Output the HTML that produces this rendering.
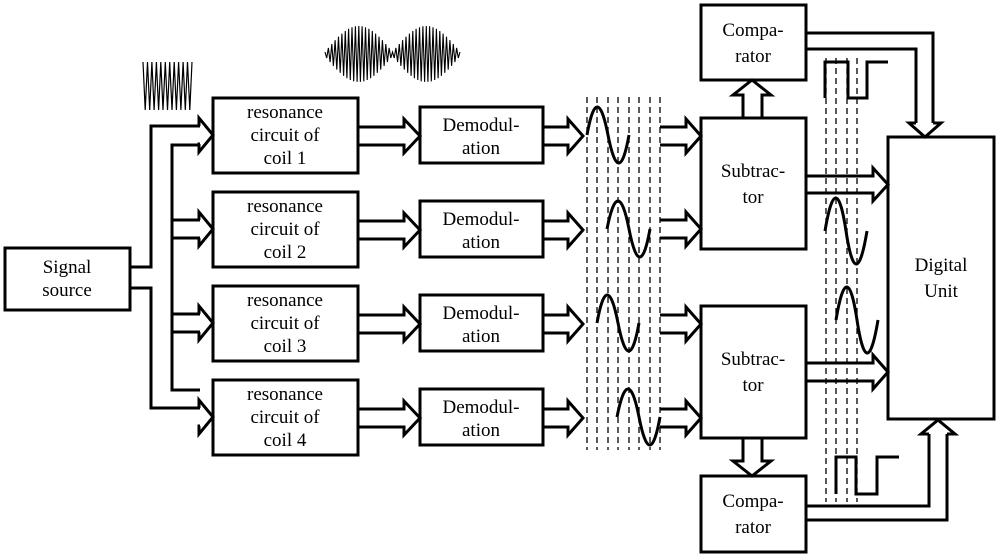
<!DOCTYPE html>
<html><head><meta charset="utf-8"><style>
html,body{margin:0;padding:0;background:#fff;}
svg{display:block}
.t text{font-family:"Liberation Serif","Times New Roman",Times,"DejaVu Serif","Noto Serif CJK SC",serif;font-size:19px;}
</style></head><body>
<svg id="s" width="1000" height="557" viewBox="0 0 1000 557" xmlns="http://www.w3.org/2000/svg">
<g fill="none" stroke="#000" stroke-width="3">
<rect x="5" y="248" width="125" height="62"/>
<rect x="213" y="98" width="145" height="75"/>
<rect x="213" y="192" width="145" height="75"/>
<rect x="213" y="286" width="145" height="75"/>
<rect x="213" y="380" width="145" height="75"/>
<rect x="420" y="107" width="123" height="56"/>
<rect x="420" y="201" width="123" height="56"/>
<rect x="420" y="295" width="123" height="56"/>
<rect x="420" y="389" width="123" height="56"/>
<rect x="701" y="118" width="105" height="131"/>
<rect x="701" y="306" width="105" height="132"/>
<rect x="701" y="5" width="105" height="75"/>
<rect x="701" y="476" width="105" height="76"/>
<rect x="888" y="137" width="106" height="282"/>
<polyline points="130,267 151,267 151,126 200,126"/>
<polyline points="130,288 151,288 151,408 200,408"/>
<polyline points="200,145 172,145 172,390 200,390"/>
<line x1="172" y1="220" x2="200" y2="220"/>
<line x1="172" y1="238" x2="200" y2="238"/>
<line x1="172" y1="314" x2="200" y2="314"/>
<line x1="172" y1="332" x2="200" y2="332"/>
</g>
<g id="arrows" fill="none" stroke="#000" stroke-width="3" stroke-linejoin="miter"></g>
<g fill="none" stroke="#000" stroke-width="1.3" stroke-dasharray="6,4">
<line x1="587" y1="97" x2="587" y2="450"/><line x1="597" y1="97" x2="597" y2="450"/>
<line x1="608" y1="97" x2="608" y2="450"/><line x1="618" y1="97" x2="618" y2="450"/>
<line x1="629" y1="97" x2="629" y2="450"/><line x1="639" y1="97" x2="639" y2="450"/>
<line x1="650" y1="97" x2="650" y2="450"/><line x1="660" y1="97" x2="660" y2="450"/>
<line x1="826" y1="58" x2="826" y2="502"/><line x1="836" y1="58" x2="836" y2="502"/>
<line x1="847" y1="58" x2="847" y2="502"/><line x1="857" y1="58" x2="857" y2="502"/>
</g>
<g fill="none" stroke="#000" stroke-width="3">
<path d="M587,135 Q597,79 608,135 T629,135"/>
<path d="M607,229 Q618,173 629,229 T650,229"/>
<path d="M597,323 Q607,267 618,323 T639,323"/>
<path d="M617,417 Q628,361 639,417 T660,417"/>
<path d="M825,231 Q836,165 846,231 T867,231"/>
<path d="M836,320 Q847,254 857,320 T878,320"/>
<polyline points="825,98 825,62 848,62 848,98 867,98 867,62 888,62"/>
<polyline points="836,494 836,457 856,457 856,494 877,494 877,457 899,457"/>
<polyline points="806,33 933,33 933,123"/>
<polyline points="806,49 916,49 916,123"/>
<polyline points="916,123 909,123 925,137 941,123 933,123"/>
<polyline points="806,506 929,506 929,434"/>
<polyline points="806,520 947,520 947,434"/>
<polyline points="929,434 921,434 938,420 955,434 947,434"/>
<polyline points="743,118 743,95 733,95 752,80 771,95 762,95 762,118"/>
<polyline points="743,438 743,461 733,461 752,476 771,461 762,461 762,438"/>
</g>
<polyline id="chirp" fill="none" stroke="#000" stroke-width="1.2"/>
<polyline id="am" fill="none" stroke="#000" stroke-width="1.1"/>
<g class="t" text-anchor="middle" fill="#000">
<text x="67" y="273">Signal</text><text x="67" y="296">source</text>
<text x="285" y="118">resonance</text><text x="285" y="141">circuit of</text><text x="285" y="164">coil 1</text>
<text x="285" y="212">resonance</text><text x="285" y="235">circuit of</text><text x="285" y="258">coil 2</text>
<text x="285" y="306">resonance</text><text x="285" y="329">circuit of</text><text x="285" y="352">coil 3</text>
<text x="285" y="400">resonance</text><text x="285" y="423">circuit of</text><text x="285" y="446">coil 4</text>
<text x="481" y="131">Demodul-</text><text x="481" y="154">ation</text>
<text x="481" y="225">Demodul-</text><text x="481" y="248">ation</text>
<text x="481" y="319">Demodul-</text><text x="481" y="342">ation</text>
<text x="481" y="413">Demodul-</text><text x="481" y="436">ation</text>
<text x="753" y="36">Compa-</text><text x="753" y="62">rator</text>
<text x="753" y="507">Compa-</text><text x="753" y="533">rator</text>
<text x="753" y="177">Subtrac-</text><text x="753" y="203">tor</text>
<text x="753" y="365">Subtrac-</text><text x="753" y="391">tor</text>
<text x="941" y="271">Digital</text><text x="941" y="297">Unit</text>
</g>
</svg>
<script>
var g=document.getElementById('arrows');
function da(x0,xh,xt,y1,y2){var m=(y1+y2)/2;var p=document.createElementNS('http://www.w3.org/2000/svg','polyline');
p.setAttribute('points',[x0,y1,xh,y1,xh,y1-8,xt,m,xh,y2+8,xh,y2,x0,y2].join(' '));g.appendChild(p);}
var ys=[126,220,314,408];
for(var i=0;i<4;i++){var y=ys[i];
da(200,199,213,y,y+18);
da(358,404,420,y+1,y+19);
da(543,568,583,y+1,y+19);}
da(660,686,701,127,145);da(660,686,701,220,238);
da(660,686,701,315,333);da(660,686,701,409,427);
da(806,873,888,176,193);da(806,873,888,363,381);
var pts=[];for(var k=0;k<=22;k++){var x=143+k*49/22;pts.push(x.toFixed(1)+','+(k%2?110:62));}
document.getElementById('chirp').setAttribute('points',pts.join(' '));
pts=[];for(var k=0;k<=80;k++){var x=325+k*135/80;var t=(x-325)/135;
var e=Math.abs(Math.sin(t*Math.PI*2))*26+2;pts.push(x.toFixed(1)+','+(54+(k%2?e:-e)).toFixed(1));}
document.getElementById('am').setAttribute('points',pts.join(' '));
</script>
</body></html>
